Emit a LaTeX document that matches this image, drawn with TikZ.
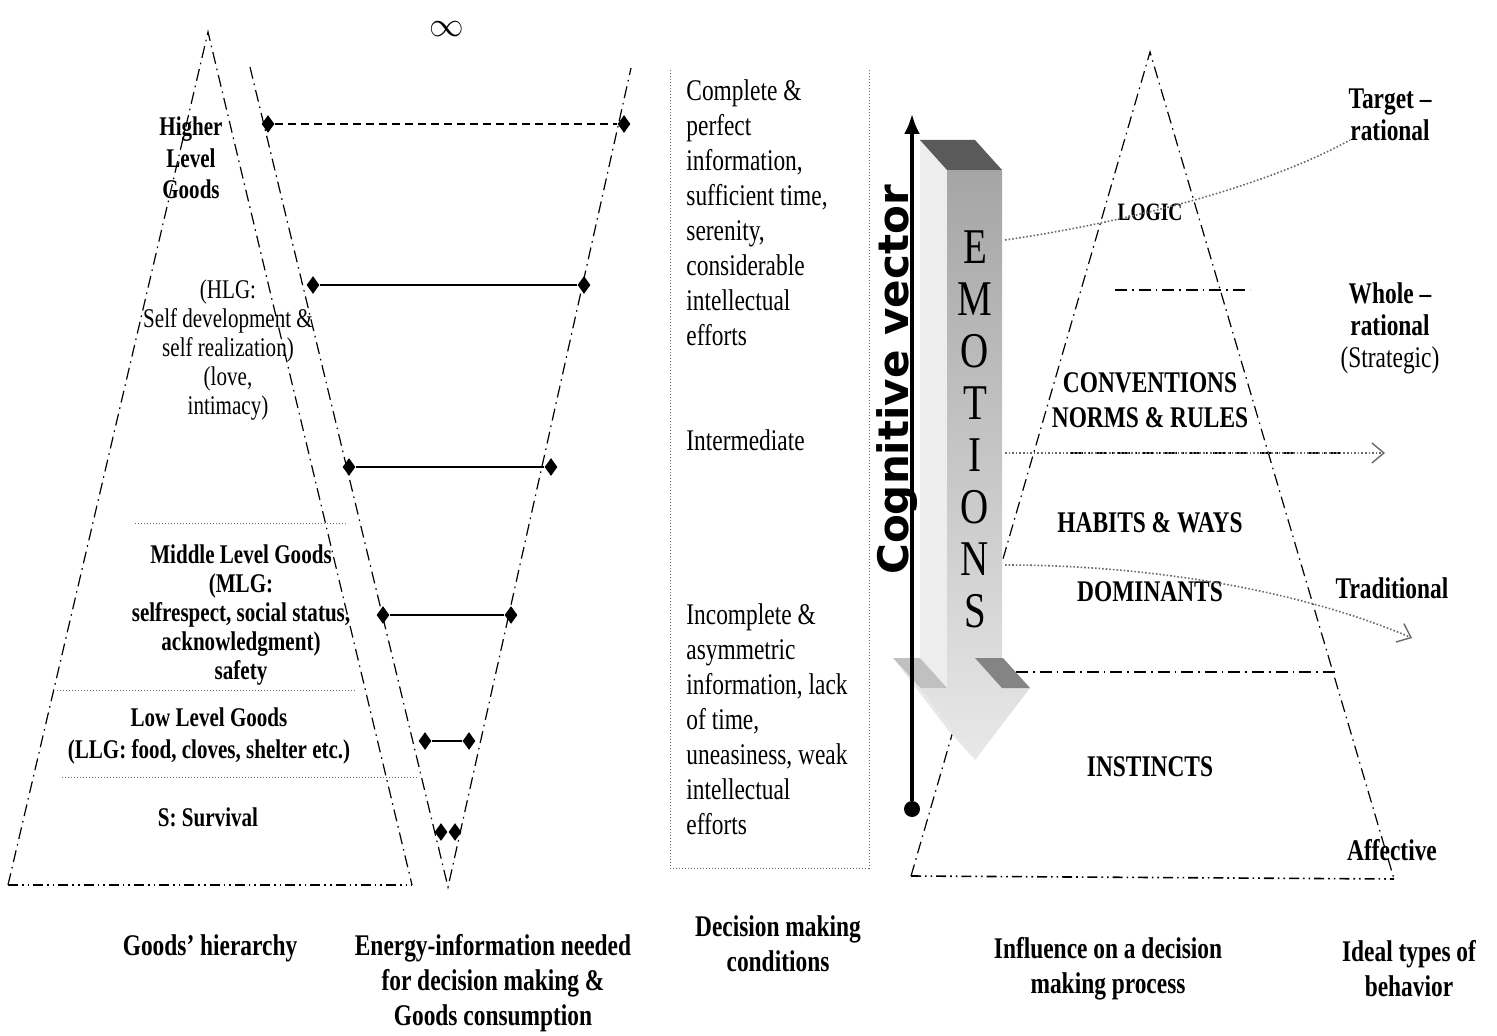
\documentclass[tikz,border=0pt]{standalone}
\usepackage{fontspec}
\setmainfont{Liberation Serif}[FakeStretch=0.78]
\newfontfamily\vecfont{DejaVu Sans}
\usepackage{tikz}
\usetikzlibrary{shapes.geometric, arrows.meta, positioning, calc}
\usepackage{xcolor}
\definecolor{arrowdark}{RGB}{90, 90, 90}
\definecolor{arrowmid}{RGB}{165, 165, 165}
\definecolor{arrowlight}{RGB}{232, 232, 232}
\definecolor{dotgray}{RGB}{105, 105, 105}

\begin{document}
\begin{tikzpicture}[x=0.5pt, y=-0.5pt,
    edge/.style={line width=0.6pt, dash pattern=on 6pt off 2.5pt on 0.8pt off 2.5pt},
    baseline dd/.style={line width=0.8pt, dash pattern=on 5pt off 2pt on 0.8pt off 2pt on 0.8pt off 2pt},
    level/.style={line width=0.5pt, dotgray, densely dotted},
    flow/.style={line width=0.8pt, dotgray, densely dotted},
    dmd/.style={diamond, fill=black, inner sep=0pt, minimum width=6.5pt, minimum height=9pt},
    goods/.style={align=center, font=\fontsize{13.5}{14.6}\selectfont},
    cond/.style={align=left, anchor=west, inner sep=0pt, font=\fontsize{15}{17.5}\selectfont},
    caption/.style={align=center, font=\fontsize{15}{17.5}\selectfont\bfseries},
    stage/.style={align=center, font=\fontsize{15}{17.5}\selectfont\bfseries},
    ideal/.style={align=center, font=\fontsize{15}{16}\selectfont\bfseries}
]
\useasboundingbox (0,0) rectangle (1497,1036);

% Goods pyramid
\coordinate (gtop) at (208,32);
\coordinate (gbl) at (8,885);
\coordinate (gbr) at (412,885);
\draw[edge] (gbl) -- (gtop) -- (gbr);
\draw[baseline dd] (gbl) -- (gbr);
\draw[level] (135,524) -- (348,524);
\draw[level] (57,690) -- (355,690);
\draw[level] (62,777) -- (417,777);

\node[goods, font=\fontsize{13.5}{15.8}\selectfont\bfseries] (hlg) at (191,158) {Higher\\Level\\Goods};
\node[goods] (hlgtxt) at (228,350) {(HLG:\\Self development \&\\self realization)\\(love,\\intimacy)};
\node[goods, font=\fontsize{13.5}{14.6}\selectfont\bfseries] (mlg) at (241,615) {Middle Level Goods\\(MLG:\\selfrespect, social status,\\acknowledgment)\\safety};
\node[goods, font=\fontsize{13.5}{16}\selectfont\bfseries] (llg) at (209,736) {Low Level Goods\\(LLG: food, cloves, shelter etc.)};
\node[goods, font=\fontsize{13.5}{16}\selectfont\bfseries] (surv) at (208,817) {S: Survival};

% Energy-information funnel
\coordinate (vtl) at (250,67);
\coordinate (vtr) at (631,68);
\coordinate (vbot) at (448,887);
\draw[edge] (vtl) -- (vbot) -- (vtr);
\node[inner sep=0pt, font=\fontsize{17}{17}\selectfont] (inf) at (447,29) {$\infty$};

\foreach \n/\y/\xa/\xb in {1/124/268/624, 2/285/313/584, 3/467/349/551, 4/615/383/511, 5/741/425/469, 6/832/441/455}
{
    \node[dmd] (en\n l) at (\xa,\y) {};
    \node[dmd] (en\n r) at (\xb,\y) {};
}
\draw[line width=1.2pt, dash pattern=on 4pt off 2.5pt] (en1l) -- (en1r);
\foreach \n in {2,3,4,5}
    \draw[line width=1pt] (en\n l) -- (en\n r);

% Decision making conditions
\draw[level] (670,70) -- (670,868) -- (869,868) -- (869,70);
\node[cond] (cond1) at (686,213) {Complete \&\\perfect\\information,\\sufficient time,\\serenity,\\considerable\\intellectual\\efforts};
\node[cond] (cond2) at (686,440) {Intermediate};
\node[cond] (cond3) at (686,719) {Incomplete \&\\asymmetric\\information, lack\\of time,\\uneasiness, weak\\intellectual\\efforts};

% Influence pyramid
\coordinate (itop) at (1150,52);
\coordinate (ibl) at (911,876);
\coordinate (ibr) at (1394,879);
\draw[edge] (ibl) -- (itop) -- (ibr);
\draw[baseline dd] (ibl) -- (ibr);
\draw[edge, line width=0.9pt] (1115,290) -- (1250,290);
\draw[edge, line width=0.9pt] (1071,453) -- (1340,453);
\draw[edge, line width=0.9pt] (1016,672) -- (1336,672);

\node[stage, font=\fontsize{12.5}{14}\selectfont\bfseries] (logic) at (1150,212) {LOGIC};
\node[stage] (conv) at (1150,400) {CONVENTIONS\\NORMS \& RULES};
\node[stage] (habits) at (1150,523) {HABITS \& WAYS};
\node[stage] (domin) at (1150,592) {DOMINANTS};
\node[stage] (instinct) at (1150,767) {INSTINCTS};

% Emotions block arrow
\fill[arrowlight!80] (920,140) -- (947,170) -- (947,688) -- (920,658) -- cycle;
\fill[arrowmid!70] (893,658) -- (920,658) -- (947,688) -- (920,688) -- cycle;
\fill[arrowlight] (893,658) -- (920,688) -- (975,760) -- (948,730) -- cycle;
\shade[top color=arrowmid, bottom color=arrowlight] (947,170) -- (1002,170) -- (1002,688) -- (1030,688) -- (975,760) -- (920,688) -- (947,688) -- cycle;
\fill[arrowdark] (920,140) -- (975,140) -- (1002,170) -- (947,170) -- cycle;
\fill[arrowmid!80!black] (975,658) -- (1003,658) -- (1030,688) -- (1002,688) -- cycle;
\foreach \l [count=\i] in {E,M,O,T,I,O,N,S}
    \node[inner sep=0pt, font=\fontsize{25}{25}\selectfont] (emo\i) at (975,{247+52*(\i-1)}) {\l};

% Cognitive vector
\node[circle, fill=black, inner sep=0pt, minimum size=8pt] (cvbot) at (912,809) {};
\coordinate (cvtop) at (912,114);
\draw[line width=1.6pt, -{Latex[length=10pt, width=8pt]}] (cvbot) -- (cvtop);
\node[rotate=90, anchor=base, inner sep=0pt, font=\vecfont\bfseries\fontsize{21}{21}\selectfont] (cvlabel) at (908,380) {Cognitive vector};

% Ideal types of behavior
\node[ideal] (target) at (1390,115) {Target --\\rational};
\node[ideal] (whole) at (1390,328) {Whole --\\rational\\\mdseries(Strategic)};
\node[ideal] (trad) at (1392,588) {Traditional};
\node[ideal] (affect) at (1392,850) {Affective};

% Influence flows
\coordinate (fl1) at (1005,240);
\coordinate (fl2) at (1005,453);
\coordinate (fl3) at (1005,565);
\coordinate (fl1end) at (1350,140);
\coordinate (fl2end) at (1385,453);
\coordinate (fl3end) at (1412,638);
\draw[flow] (fl1) .. controls (1110,225) and (1260,190) .. (fl1end);
\draw[flow, -{Straight Barb[length=6pt, width=10pt, line width=0.7pt]}] (fl2) -- (fl2end);
\draw[flow, -{Straight Barb[length=6pt, width=10pt, line width=0.7pt]}] (fl3) .. controls (1150,565) and (1300,590) .. (fl3end);

% Column captions
\node[caption] (cap1) at (210,948) {Goods' hierarchy};
\node[caption] (cap2) at (493,983) {Energy-information needed\\for decision making \&\\Goods consumption};
\node[caption] (cap3) at (778,944) {Decision making\\conditions};
\node[caption] (cap4) at (1108,969) {Influence on a decision\\making process};
\node[caption] (cap5) at (1409,969) {Ideal types of\\behavior};

\end{tikzpicture}
\end{document}
